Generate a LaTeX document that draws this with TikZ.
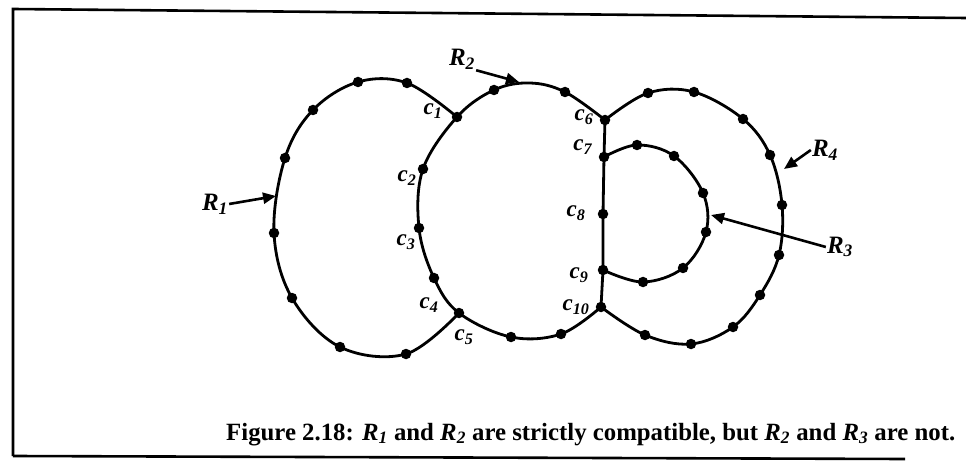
\documentclass[tikz,border=0pt]{standalone}
\usepackage{fontspec}
\setmainfont{Liberation Serif}
\usetikzlibrary{arrows.meta}

\newcommand{\clab}[1]{\textit{c}\textsubscript{\textit{#1}}}
\newcommand{\rlab}[1]{\textit{R}\textsubscript{\textit{#1}}}

\begin{document}
\begin{tikzpicture}[
    x=1pt, y=-1pt,
    frameline/.style={line width=2.6pt},
    region/.style={line width=2.8pt, line join=round},
    dot/.style={circle, fill=black, inner sep=0pt, minimum size=10.5pt},
    clabel/.style={font=\fontsize{23}{23}\selectfont\bfseries, inner sep=0pt},
    rlabel/.style={font=\fontsize{25}{25}\selectfont\bfseries, inner sep=1pt},
    pointer/.style={line width=2.6pt, -{Triangle[length=13pt,width=11pt]}}
]
\useasboundingbox (0,0) rectangle (966,462);

% Frame
\draw[frameline] (13,456) -- (13,9) -- (966,18);
\draw[frameline] (13,456) -- (905,459);

% Junction points
\coordinate (c1) at (457,117);
\coordinate (c2) at (423,169);
\coordinate (c3) at (419,228);
\coordinate (c4) at (434,278);
\coordinate (c5) at (459,313);
\coordinate (c6) at (605,120);
\coordinate (c7) at (604,157);
\coordinate (c8) at (603,214);
\coordinate (c9) at (603,270);
\coordinate (c10) at (601,307);

% R1 boundary points
\foreach \x/\y [count=\i] in {407/83, 358/82, 313/110, 285/158, 274/233, 292/298, 340/347, 406/354}
    \coordinate (a\i) at (\x,\y);

% R2 boundary points
\foreach \x/\y [count=\i] in {565/92, 494/90, 511/337, 561/334}
    \coordinate (b\i) at (\x,\y);
\coordinate (r2top) at (530,83);

% R4 boundary points
\foreach \x/\y [count=\i] in {648/93, 694/92, 743/119, 770/155, 782/205, 779/255, 760/295, 733/327, 691/344, 645/335}
    \coordinate (d\i) at (\x,\y);

% R3 boundary points
\foreach \x/\y [count=\i] in {637/145, 674/156, 703/193, 706/232, 683/268, 643/282}
    \coordinate (e\i) at (\x,\y);

% Region boundaries
\draw[region] plot[smooth, tension=0.6] coordinates {(c1) (a1) (a2) (a3) (a4) (a5) (a6) (a7) (a8) (c5)};
\draw[region] plot[smooth, tension=0.6] coordinates {(c6) (b1) (r2top) (b2) (c1) (c2) (c3) (c4) (c5) (b3) (b4) (c10)};
\draw[region] plot[smooth, tension=0.6] coordinates {(c6) (d1) (d2) (d3) (d4) (d5) (d6) (d7) (d8) (d9) (d10) (c10)};
\draw[region] plot[smooth, tension=0.6] coordinates {(c7) (e1) (e2) (e3) (e4) (e5) (e6) (c9)};
\draw[region] (c6) -- (c7) -- (c8) -- (c9) -- (c10);

% Dots
\foreach \p in {c1,c2,c3,c4,c5,c6,c7,c8,c9,c10,a1,a2,a3,a4,a5,a6,a7,a8,b1,b2,b3,b4,d1,d2,d3,d4,d5,d6,d7,d8,d9,d10,e1,e2,e3,e4,e5,e6}
    \node[dot] at (\p) {};

% Junction labels
\node[clabel] (lc1) at (433,111) {\clab{1}};
\node[clabel] (lc2) at (407,178) {\clab{2}};
\node[clabel] (lc3) at (406,242) {\clab{3}};
\node[clabel] (lc4) at (429,305) {\clab{4}};
\node[clabel] (lc5) at (464,337) {\clab{5}};
\node[clabel] (lc6) at (584,117) {\clab{6}};
\node[clabel] (lc7) at (583,147) {\clab{7}};
\node[clabel] (lc8) at (576,213) {\clab{8}};
\node[clabel] (lc9) at (579,275) {\clab{9}};
\node[clabel] (lc10) at (576,307) {\clab{10}};

% Region labels and pointers
\coordinate (t1) at (276,196);
\coordinate (t2) at (519,82);
\coordinate (t3) at (711,215);
\coordinate (t4) at (784,169);
\node[rlabel] (R1) at (215,204) {\rlab{1}};
\node[rlabel] (R2) at (462,59) {\rlab{2}};
\node[rlabel] (R3) at (840,247) {\rlab{3}};
\node[rlabel] (R4) at (825,150) {\rlab{4}};
\draw[pointer] (R1.east) -- (t1);
\draw[pointer] (R2.south east) -- (t2);
\draw[pointer] (R3.west) -- (t3);
\draw[pointer] (R4.west) -- (t4);

% Caption
\node[anchor=base west, inner sep=0pt, font=\fontsize{24.8}{24.8}\selectfont\bfseries] (caption) at (226,440)
    {Figure 2.18: \rlab{1} and \rlab{2} are strictly compatible, but \rlab{2} and \rlab{3} are not.};

\end{tikzpicture}
\end{document}
